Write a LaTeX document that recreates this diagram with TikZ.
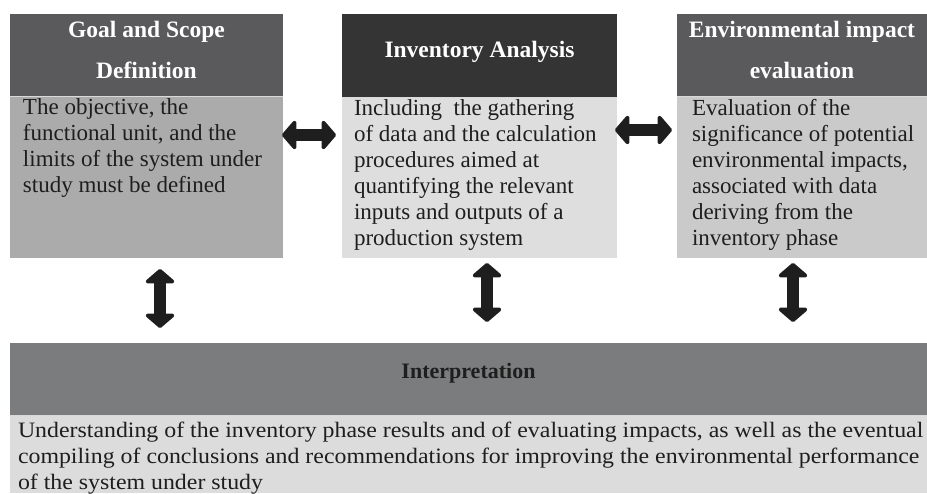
\documentclass[tikz,border=0pt]{standalone}
\usepackage{fontspec}
\usepackage{graphicx}
\setmainfont{Liberation Serif}
\usetikzlibrary{arrows.meta,calc}

\definecolor{hdrmid}{HTML}{5A5A5C}
\definecolor{hdrdark}{HTML}{343434}
\definecolor{hdrlight}{HTML}{7B7C7E}
\definecolor{bodymid}{HTML}{ABABAB}
\definecolor{bodypale}{HTML}{DEDEDE}
\definecolor{bodysoft}{HTML}{CACACA}
\definecolor{bodyint}{HTML}{DCDCDC}
\definecolor{inktext}{HTML}{1E1E1E}
\definecolor{arrowink}{HTML}{1E1E1E}

% one widened line of the closing paragraph
\newcommand{\wideline}[1]{\scalebox{1.084}[1]{#1}}

\begin{document}
\begin{tikzpicture}[x=1pt,y=-1pt,
  panel/.style={anchor=north west, inner sep=0pt, outer sep=0pt},
  headtext/.style={inner sep=0pt, outer sep=0pt, text=white, align=center,
    font=\fontsize{23.5}{41}\selectfont\bfseries},
  bodytext/.style={anchor=north west, inner sep=0pt, outer sep=0pt,
    align=left, text=inktext, font=\fontsize{23}{26}\selectfont},
  seam/.style={draw=white!85!black, line width=1pt},
  blockarrow/.style={draw=arrowink, line width=12pt,
    {Triangle[width=34pt,length=15pt,round]}-{Triangle[width=34pt,length=15pt,round]}}
]
\useasboundingbox (0,0) rectangle (927,493);

% phase 1: goal and scope
\node[panel, fill=hdrmid, minimum width=273pt, minimum height=82pt] (h1) at (10,14) {};
\node[headtext] (h1t) at ($(h1.center)+(0,-5)$) {Goal and Scope\\Definition};
\node[panel, fill=bodymid, minimum width=273pt, minimum height=162pt] (b1) at (10,96) {};
\draw[seam] (b1.north west) -- (b1.north east);
\node[bodytext] (t1) at (23,99)
  {The objective, the\\functional unit, and the\\limits of the system under\\study must be defined};

% phase 2: inventory analysis
\node[panel, fill=hdrdark, minimum width=275pt, minimum height=83pt] (h2) at (342,14) {};
\node[headtext] (h2t) at ($(h2.center)+(0,-4)$) {Inventory Analysis};
\node[panel, fill=bodypale, minimum width=275pt, minimum height=161pt] (b2) at (342,97) {};
\draw[seam] (b2.north west) -- (b2.north east);
\node[bodytext] (t2) at (354,100)
  {Including\ \ the gathering\\of data and the calculation\\procedures aimed at\\quantifying the relevant\\inputs and outputs of a\\production system};

% phase 3: impact evaluation
\node[panel, fill=hdrmid, minimum width=250pt, minimum height=82pt] (h3) at (677,14) {};
\node[headtext] (h3t) at ($(h3.center)+(0,-5)$) {Environmental impact\\evaluation};
\node[panel, fill=bodysoft, minimum width=250pt, minimum height=162pt] (b3) at (677,96) {};
\draw[seam] (b3.north west) -- (b3.north east);
\node[bodytext] (t3) at (692,99)
  {Evaluation of the\\significance of potential\\environmental impacts,\\associated with data\\deriving from the\\inventory phase};

% interpretation
\node[panel, fill=hdrlight, minimum width=917pt, minimum height=72pt] (h4) at (10,343) {};
\node[headtext, text=inktext, font=\fontsize{22}{26}\selectfont\bfseries] (h4t)
  at ($(h4.center)+(0,-6)$) {Interpretation};
\node[panel, fill=bodyint, minimum width=917pt, minimum height=78pt] (b4) at (10,415) {};
\draw[seam] (b4.north west) -- (b4.north east);
\node[bodytext, font=\fontsize{22}{26}\selectfont] (t4) at (18,422)
  {\wideline{Understanding of the inventory phase results and of evaluating impacts, as well as the eventual}\\
   \wideline{compiling of conclusions and recommendations for improving the environmental performance}\\
   \wideline{of the system under study}};

% arrows between phases
\coordinate (a1l) at ($(b1.north east)+(-1,39)$);
\coordinate (a1r) at ($(b2.north west)+(-6,38)$);
\coordinate (a2l) at ($(b2.north east)+(-2,33)$);
\coordinate (a2r) at ($(b3.north west)+(-5,34)$);
\draw[blockarrow] (a1l) -- (a1r);
\draw[blockarrow] (a2l) -- (a2r);

\coordinate (v1t) at (160,269);
\coordinate (v1b) at (160,328);
\coordinate (v2t) at (487,263);
\coordinate (v2b) at (487,322);
\coordinate (v3t) at (793,263);
\coordinate (v3b) at (793,322);
\draw[blockarrow] (v1t) -- (v1b);
\draw[blockarrow] (v2t) -- (v2b);
\draw[blockarrow] (v3t) -- (v3b);
\end{tikzpicture}
\end{document}
